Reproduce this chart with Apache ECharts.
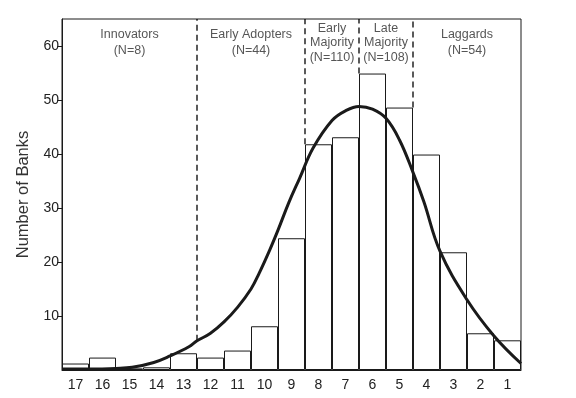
<!DOCTYPE html>
<html>
<head>
<meta charset="utf-8">
<style>
  html, body { margin: 0; padding: 0; background: #fff; }
  #chart { width: 576px; height: 398px; }
</style>
<script src="https://cdn.jsdelivr.net/npm/echarts@6/dist/echarts.min.js"></script>
</head>
<body>
<div id="chart"></div>
<script>
// Categories (x axis, left to right)
const categories = ['17','16','15','14','13','12','11','10','9','8','7','6','5','4','3','2','1'];
// Histogram bar heights (Number of Banks)
const bankCounts = [1.2, 2.3, 0.3, 0.5, 3.1, 2.3, 3.6, 8.1, 24.4, 41.8, 43.1, 54.9, 48.6, 39.9, 21.8, 6.8, 5.5];

// Fitted curve: position in category units from left edge, value
const curvePos =    [0,   1,   2,   2.6, 3.4, 4,   4.7, 5,   5.5, 6,   6.5,  7,    7.3,  7.7,  8,    8.4,  8.8,  9.3,  10,   10.5, 11,   11.5, 12,   12.5, 13,   13.4, 14,   15,   16,  17];
const curveValues = [0.2, 0.2, 0.3, 0.5, 1.4, 2.6, 4.3, 5.4, 6.8, 8.9, 11.6, 15.0, 17.9, 22.3, 25.9, 31.0, 35.5, 41.1, 46.2, 48.0, 48.8, 48.3, 46.6, 42.6, 36.6, 31.2, 22.0, 13.0, 6.3, 1.2];

// Adopter category dividers: position (category units) and lower end value
const dividerPos = [5, 9, 11, 13];
const dividerBottom = [5.4, 41.8, 54.9, 48.6];

// Group labels
const groupNames = ['Innovators', 'Early Adopters', 'Early\nMajority', 'Late\nMajority', 'Laggards'];
const groupCounts = ['(N=8)', '(N=44)', '(N=110)', '(N=108)', '(N=54)'];
const groupCenters = [2.5, 7, 10, 12, 15];
const groupLabelLevel = 60.6;

// Y axis ticks
const yTicks = [10, 20, 30, 40, 50, 60];
const yLabels = [10, 20, 30, 40, 50, 60];
const yMax = 65;

const FONT = 'Liberation Sans, Arial, Helvetica, sans-serif';

const chart = echarts.init(document.getElementById('chart'), null, { renderer: 'canvas' });

const series = [
  {
    type: 'bar',
    xAxisIndex: 0,
    yAxisIndex: 0,
    data: bankCounts,
    barWidth: '100%',
    barGap: '0%',
    barCategoryGap: '0%',
    itemStyle: { color: '#ffffff', borderColor: '#1a1a1a', borderWidth: 1 },
    silent: true,
    z: 2
  },
  {
    type: 'line',
    xAxisIndex: 1,
    yAxisIndex: 0,
    data: curvePos.map((p, i) => [p, curveValues[i]]),
    smooth: 0.4,
    symbol: 'none',
    lineStyle: { color: '#1a1a1a', width: 3 },
    silent: true,
    z: 5
  }
];

dividerPos.forEach((p, i) => {
  series.push({
    type: 'line',
    xAxisIndex: 1,
    yAxisIndex: 0,
    data: [[p, dividerBottom[i]], [p, yMax]],
    symbol: 'none',
    lineStyle: { color: '#000000', width: 1.3, type: [6, 4] },
    silent: true,
    z: 4
  });
});

series.push({
  type: 'scatter',
  xAxisIndex: 1,
  yAxisIndex: 0,
  symbolSize: 0,
  silent: true,
  data: groupCenters.map((c, i) => ({
    value: [c, groupLabelLevel],
    label: {
      show: true,
      position: 'inside',
      formatter: groupNames[i] + '\n' + groupCounts[i],
      color: '#2a2a2a',
      fontSize: 12.5,
      lineHeight: groupNames[i].indexOf('\n') >= 0 ? 14.5 : 16,
      fontFamily: FONT,
      align: 'center',
      verticalAlign: 'middle'
    }
  })),
  z: 6
});

const option = {
  backgroundColor: '#ffffff',
  animation: false,
  grid: {
    left: 62, right: 55, top: 19, bottom: 28,
    show: true, borderColor: '#1a1a1a', borderWidth: 1,
    backgroundColor: 'transparent'
  },
  xAxis: [
    {
      type: 'category',
      data: categories,
      boundaryGap: true,
      axisLine: { lineStyle: { color: '#1a1a1a', width: 1 } },
      axisTick: { alignWithLabel: true, length: 6, lineStyle: { color: '#1a1a1a' } },
      axisLabel: { color: '#222', fontSize: 14, fontFamily: FONT, margin: 8 },
      splitLine: { show: false }
    },
    {
      type: 'value',
      min: 0, max: 17,
      show: false
    }
  ],
  yAxis: [{
    type: 'value',
    min: 0, max: yMax, interval: 10,
    name: 'Number of Banks',
    nameLocation: 'middle',
    nameGap: 30,
    nameTextStyle: { color: '#333', fontSize: 16.5, fontFamily: FONT },
    axisLine: { show: true, lineStyle: { color: '#1a1a1a', width: 1 } },
    axisTick: { show: true, length: 5, lineStyle: { color: '#1a1a1a' }, customValues: yTicks },
    axisLabel: { color: '#222', fontSize: 14, fontFamily: FONT, margin: 3, customValues: yLabels },
    splitLine: { show: false }
  }],
  series: series
};

chart.setOption(option);
</script>
</body>
</html>
